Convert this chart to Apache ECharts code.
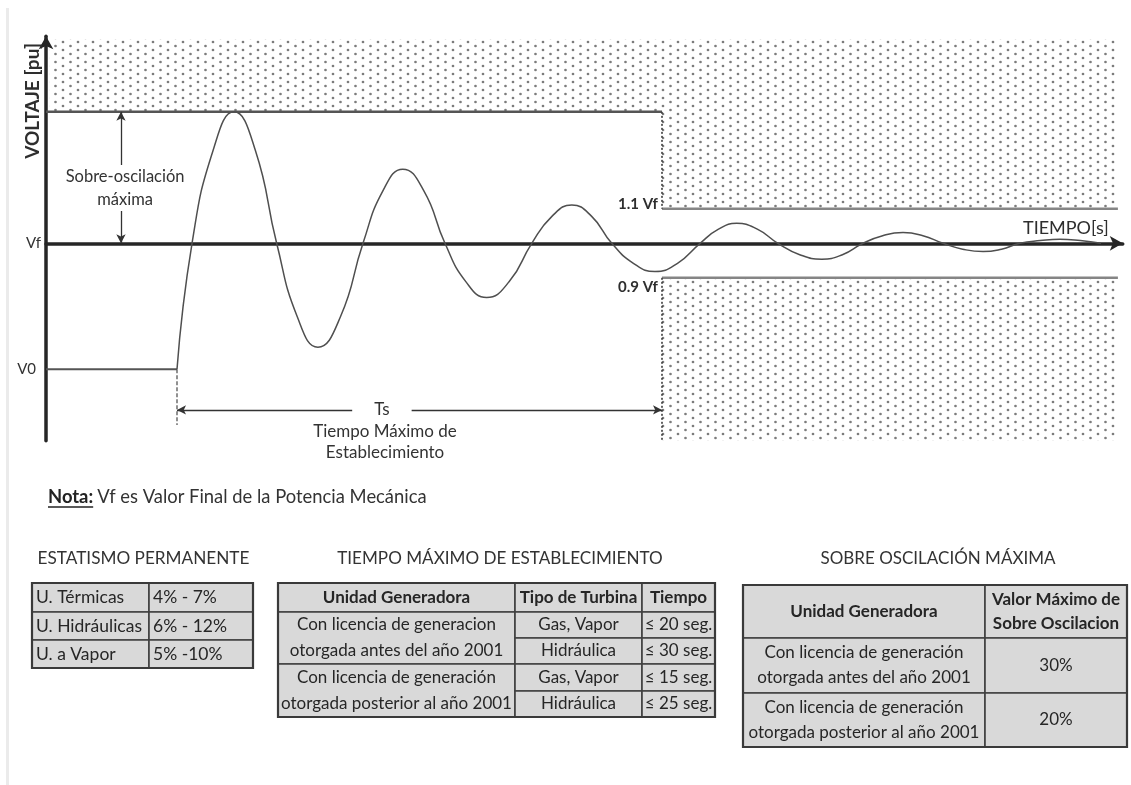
<!DOCTYPE html>
<html lang="es">
<head>
<meta charset="utf-8">
<title>Respuesta del regulador de velocidad</title>
<script src="https://cdn.jsdelivr.net/npm/echarts@6.0.0/dist/echarts.min.js"></script>
<style>
  html, body { margin: 0; padding: 0; background: #ffffff; }
  #chart { width: 1131px; height: 785px; }
</style>
</head>
<body>
<div id="chart"></div>
<script>
// ---- Step response: time in s after the load step, voltage as deviation from Vf (pu)
const responseTime = [0, 0.62, 1.49, 2.35, 3.23, 4.11, 4.96, 5.81, 6.74, 7.67, 8.49, 9.31, 10.18, 11.05,
                      11.91, 12.77, 13.7, 14.63, 15.46, 16.28, 17.1, 17.93, 18.82, 19.71, 20.64, 21.57,
                      22.33, 23.08, 23.93, 24.78, 25.68, 26.59, 27.44, 28.29, 29.1, 29.94, 30.76, 31.59,
                      32.4, 33.24, 34.0, 34.76, 35.6, 36.4, 37.25, 38.1];
const responseDev  = [-0.365, 0, 0.27, 0.381, 0.27, 0, -0.213, -0.301, -0.213, 0, 0.152, 0.215, 0.152, 0,
                      -0.111, -0.157, -0.111, 0, 0.078, 0.111, 0.078, 0, -0.058, -0.082, -0.058, 0,
                      0.041, 0.058, 0.041, 0, -0.033, -0.046, -0.033, 0, 0.022, 0.031, 0.022, 0,
                      -0.017, -0.024, -0.017, 0, 0.008, 0.012, 0.008, 0];

// ---- Reference levels (pu deviation from Vf) and times (s)
const levelV0 = -0.365;
const levelOvershoot = 0.381;
const levelBand = [0.1, -0.1];          // 1.1 Vf, 0.9 Vf
const settlingTime = 20;                // Ts
const timeExtent = [-5.4, 39];
const devExtent = [-0.572, 0.6];
const zoneTimeExtent = [-5.25, 38.8];
const zoneDevExtent = [-0.572, 0.592];
const tsLineDev = -0.483;
const stepGuideDev = -0.527;
const overshootArrowTime = -2.31;

// ---- Tables
const statismTitle = 'ESTATISMO PERMANENTE';
const statismUnits = ['U. Térmicas', 'U. Hidráulicas', 'U. a Vapor'];
const statismRanges = ['4% - 7%', '6% - 12%', '5% -10%'];

const settlingTitle = 'TIEMPO MÁXIMO DE ESTABLECIMIENTO';
const settlingHeader = ['Unidad Generadora', 'Tipo de Turbina', 'Tiempo'];
const settlingUnits = ['Con licencia de generacion\notorgada antes del año 2001',
                       'Con licencia de generación\notorgada posterior al año 2001'];
const settlingTurbines = ['Gas, Vapor', 'Hidráulica', 'Gas, Vapor', 'Hidráulica'];
const settlingTimes = ['≤ 20 seg.', '≤ 30 seg.', '≤ 15 seg.', '≤ 25 seg.'];

const overshootTitle = 'SOBRE OSCILACIÓN MÁXIMA';
const overshootHeader = ['Unidad Generadora', 'Valor Máximo de\nSobre Oscilacion'];
const overshootUnits = ['Con licencia de generación\notorgada antes del año 2001',
                        'Con licencia de generación\notorgada posterior al año 2001'];
const overshootLimits = ['30%', '20%'];

const FONT = 'Lato, "Open Sans", sans-serif';

// Stippled fill for the forbidden zones
function dotTile() {
  const c = document.createElement('canvas');
  c.width = 15; c.height = 8;
  const g = c.getContext('2d');
  g.fillStyle = '#7c7c7c';
  [[3, 2], [10.5, 6]].forEach(([x, y]) => {
    g.beginPath(); g.arc(x, y, 1.35, 0, Math.PI * 2); g.fill();
  });
  return c;
}
const stipple = { image: dotTile(), repeat: 'repeat' };

const [zt0, zt1] = zoneTimeExtent;
const [zBottom, zTop] = zoneDevExtent;
const zones = [
  [[zt0, zTop], [zt1, zTop], [zt1, levelBand[0]], [settlingTime, levelBand[0]],
   [settlingTime, levelOvershoot], [zt0, levelOvershoot]],
  [[settlingTime, levelBand[1]], [zt1, levelBand[1]], [zt1, zBottom], [settlingTime, zBottom]]
];

function segment(name, pts, color, width, type) {
  return {
    type: 'line', name, data: pts, symbol: 'none', silent: true, z: 3,
    lineStyle: { color, width, type: type || 'solid' }
  };
}

const chart = echarts.init(document.getElementById('chart'), null, { renderer: 'canvas' });

const option = {
  animation: false,
  backgroundColor: '#ffffff',
  grid: { left: 46.05, top: 36.3, width: 1076.7, height: 404.34, containLabel: false },
  xAxis: {
    type: 'value', min: timeExtent[0], max: timeExtent[1],
    axisLine: { show: true, onZero: true, symbol: ['none', 'arrow'], symbolSize: [11, 13],
                lineStyle: { color: '#262626', width: 3.5 } },
    axisTick: { show: false }, axisLabel: { show: false }, splitLine: { show: false },
    name: 'TIEMPO[s]', nameLocation: 'end', nameGap: -14,
    nameTextStyle: { fontFamily: FONT, fontSize: 18, color: '#2e2e2e', align: 'right',
                     verticalAlign: 'bottom', padding: [0, 0, 6, 0] }
  },
  yAxis: {
    type: 'value', min: devExtent[0], max: devExtent[1],
    axisLine: { show: true, onZero: false, symbol: ['none', 'arrow'], symbolSize: [11, 13],
                lineStyle: { color: '#262626', width: 3.5 } },
    axisTick: { show: false }, splitLine: { show: false },
    axisLabel: {
      customValues: [0, levelV0], margin: 5,
      formatter: v => (Math.abs(v) < 1e-9 ? '{vf|Vf}' : '{v0|V0}'),
      rich: {
        vf: { fontFamily: FONT, fontSize: 15, color: '#333' },
        v0: { fontFamily: FONT, fontSize: 15, color: '#333', padding: [0, 5, 0, 0] }
      }
    }
  },
  series: [
    {
      type: 'custom', name: 'zonas', silent: true, z: 1, clip: false,
      data: zones.map(z => z[0]),
      renderItem: (params, api) => ({
        type: 'polygon',
        shape: { points: zones[params.dataIndex].map(p => api.coord(p)) },
        style: { fill: stipple }
      })
    },
    segment('sobreoscilacion', [[timeExtent[0], levelOvershoot], [settlingTime, levelOvershoot]], '#555', 2.5),
    segment('banda sup', [[settlingTime, levelBand[0]], [zt1, levelBand[0]]], '#858585', 2.5),
    segment('banda inf', [[settlingTime, levelBand[1]], [zt1, levelBand[1]]], '#858585', 2.5),
    segment('borde sup', [[settlingTime, levelOvershoot], [settlingTime, levelBand[0]]], '#3d3d3d', 1.6, [2, 2]),
    segment('borde inf', [[settlingTime, levelBand[1]], [settlingTime, zBottom]], '#3d3d3d', 1.6, [2, 2]),
    segment('paso', [[0, levelV0], [0, stepGuideDev]], '#555', 1.3, [4, 2]),
    Object.assign(segment('V0', [[timeExtent[0], levelV0], [0, levelV0]], '#555', 2), {
      markLine: {
        silent: true, symbol: ['arrow', 'arrow'], symbolSize: [7, 9],
        lineStyle: { color: '#333', width: 1.3, type: 'solid' },
        label: { show: false },
        data: [
          [{ coord: [0, tsLineDev] }, { coord: [settlingTime, tsLineDev] }],
          [{ coord: [overshootArrowTime, 0] }, { coord: [overshootArrowTime, levelOvershoot] }]
        ]
      }
    }),
    {
      type: 'line', name: 'respuesta', smooth: 0.5, symbol: 'none', silent: true, z: 4,
      data: responseTime.map((t, i) => [t, responseDev[i]]),
      lineStyle: { color: '#4f4f4f', width: 1.5 }
    }
  ]
};

chart.setOption(option);

// ---- Annotations and tables
const P = (t, v) => chart.convertToPixel({ gridIndex: 0 }, [t, v]);

function txt(x, y, text, size, opts) {
  opts = opts || {};
  return {
    type: 'text', x, y, silent: true, z: 10, rotation: opts.rotation || 0,
    style: Object.assign({
      text, fill: opts.fill || '#333',
      font: (opts.bold ? 'bold ' : '') + size + 'px ' + FONT,
      align: opts.align || 'center', verticalAlign: opts.verticalAlign || 'middle'
    }, opts.style || {})
  };
}

function buildTable(x0, y0, colW, rowH, cells, size) {
  const xs = [x0]; colW.forEach(w => xs.push(xs[xs.length - 1] + w));
  const ys = [y0]; rowH.forEach(h => ys.push(ys[ys.length - 1] + h));
  const out = [];
  cells.forEach(c => {
    const x = xs[c.col], y = ys[c.row];
    const w = xs[c.col + (c.colSpan || 1)] - x;
    const h = ys[c.row + (c.rowSpan || 1)] - y;
    out.push({ type: 'rect', silent: true, z: 5, shape: { x, y, width: w, height: h },
               style: { fill: '#d9d9d9', stroke: '#404040', lineWidth: 1.6 } });
    out.push(txt(c.align === 'left' ? x + 4 : x + w / 2, y + h / 2, c.text, size, {
      bold: c.bold, align: c.align || 'center', fill: '#262626',
      style: { lineHeight: c.lineHeight || size * 1.25 }
    }));
  });
  out.push({ type: 'rect', silent: true, z: 6,
             shape: { x: x0, y: y0, width: xs[xs.length - 1] - x0, height: ys[ys.length - 1] - y0 },
             style: { fill: null, stroke: '#3a3a3a', lineWidth: 2.2 } });
  return out;
}

const statCells = [];
statismUnits.forEach((u, i) => {
  statCells.push({ col: 0, row: i, text: u, align: 'left' });
  statCells.push({ col: 1, row: i, text: statismRanges[i], align: 'left' });
});

const settleCells = settlingHeader.map((h, i) => ({ col: i, row: 0, text: h, bold: true }));
settlingUnits.forEach((u, i) => settleCells.push({ col: 0, row: 1 + 2 * i, rowSpan: 2, text: u, lineHeight: 26 }));
settlingTurbines.forEach((t, i) => {
  settleCells.push({ col: 1, row: 1 + i, text: t });
  settleCells.push({ col: 2, row: 1 + i, text: settlingTimes[i] });
});

const overCells = overshootHeader.map((h, i) => ({ col: i, row: 0, text: h, bold: true, lineHeight: 24.5 }));
overshootUnits.forEach((u, i) => {
  overCells.push({ col: 0, row: 1 + i, text: u, lineHeight: 25 });
  overCells.push({ col: 1, row: 1 + i, text: overshootLimits[i] });
});

const measure = document.createElement('canvas').getContext('2d');
measure.font = 'bold 18.4px ' + FONT;
const notaW = measure.measureText('Nota:').width;

const sobre = P(-2.14, 0.16);
const b1 = P(settlingTime, levelBand[0]);
const b2 = P(settlingTime, levelBand[1]);
const ts = P(8.45, tsLineDev);
const tsTxt = P(8.58, -0.577);

const elements = [
  { type: 'rect', silent: true, shape: { x: 6, y: 8, width: 3, height: 777 }, style: { fill: '#ebebeb' } },
  txt(33, 101, 'VOLTAJE [pu]', 19, { bold: true, rotation: Math.PI / 2, fill: '#2e2e2e' }),
  txt(sobre[0], sobre[1], 'Sobre-oscilación\nmáxima', 16.5,
      { style: { lineHeight: 23, backgroundColor: '#ffffff' } }),
  txt(b1[0] - 4, b1[1] - 4.3, '1.1 Vf', 15, { bold: true, align: 'right', fill: '#2e2e2e' }),
  txt(b2[0] - 4, b2[1] + 9.4, '0.9 Vf', 15, { bold: true, align: 'right', fill: '#2e2e2e' }),
  txt(ts[0], ts[1], 'Ts', 17, { style: { backgroundColor: '#ffffff', padding: [2, 22, 2, 22] } }),
  txt(tsTxt[0], tsTxt[1], 'Tiempo Máximo de\nEstablecimiento', 17, { style: { lineHeight: 21.3 } }),
  txt(48, 497, 'Nota:', 18.4, { bold: true, align: 'left', fill: '#222' }),
  { type: 'line', silent: true, shape: { x1: 48, y1: 507, x2: 48 + notaW, y2: 507 },
    style: { stroke: '#222', lineWidth: 1.3 } },
  txt(48 + notaW + 4, 497, 'Vf es Valor Final de la Potencia Mecánica', 18.4, { align: 'left', fill: '#333' }),
  txt(143.5, 558, statismTitle, 17.2),
  txt(500, 558, settlingTitle, 17.1),
  txt(938, 559, overshootTitle, 17)
]
  .concat(buildTable(32, 583, [117, 104], [29, 28, 28], statCells, 17.5))
  .concat(buildTable(278, 583, [237, 127, 73], [29, 26, 26, 27, 26], settleCells, 17))
  .concat(buildTable(743, 585, [242, 142], [53, 55, 54], overCells, 17));

chart.setOption({ graphic: { elements } });
</script>
</body>
</html>
